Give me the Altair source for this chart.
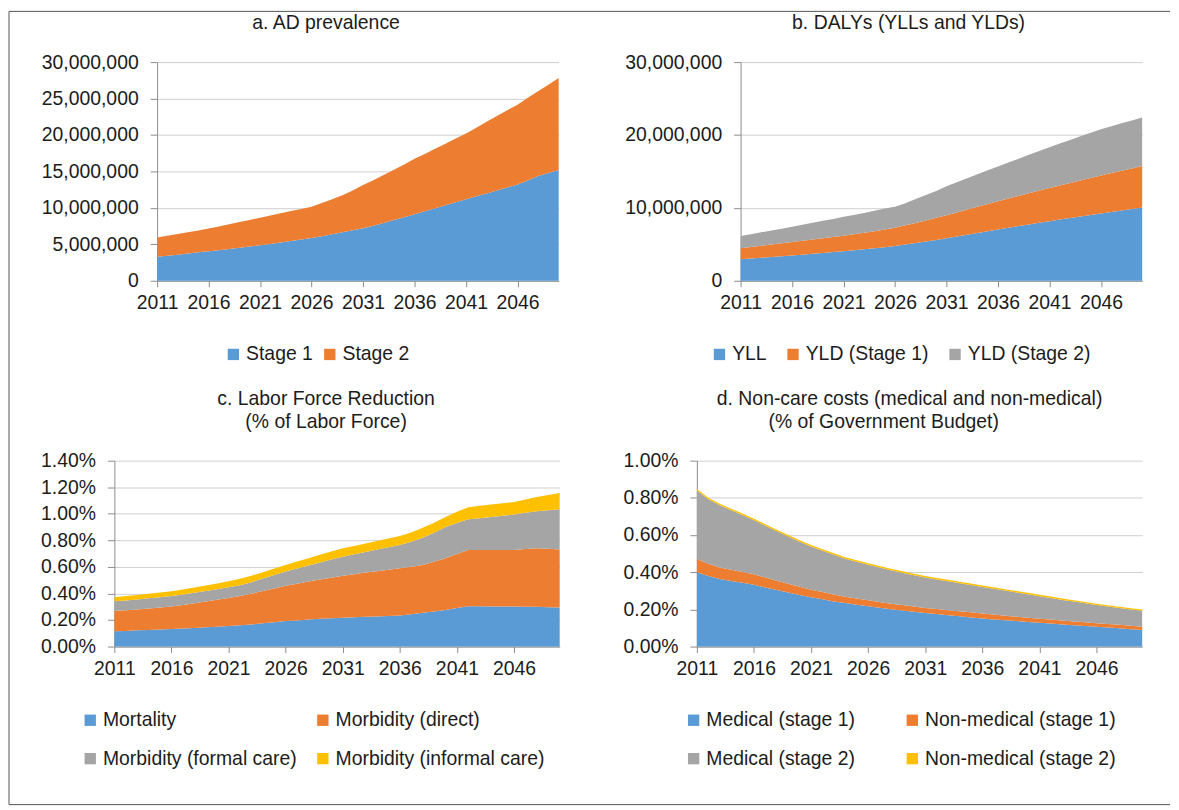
import altair as alt
import pandas as pd

FONT = "Liberation Sans"
FS = 19.5
TXT = "#1c1c1c"
GRID = "#d0d0d0"
AXIS = "#8c8c8c"
BLUE, ORANGE, GRAY, YELLOW = "#5B9BD5", "#ED7D31", "#A5A5A5", "#FFC000"

years = list(range(2011, 2051))
tick_years = [2011, 2016, 2021, 2026, 2031, 2036, 2041, 2046]

# ---- a. AD prevalence (millions; stacked levels) ----
a_names = ["Stage 1", "Stage 2"]
a_stage1_top = [3.28, 3.43, 3.58, 3.74, 3.90, 4.06, 4.20, 4.37, 4.53, 4.70,
                4.88, 5.05, 5.25, 5.45, 5.66, 5.88, 6.12, 6.38, 6.65, 6.92,
                7.20, 7.55, 7.93, 8.32, 8.72, 9.12, 9.53, 9.94, 10.35, 10.76,
                11.17, 11.58, 11.98, 12.38, 12.78, 13.20, 13.76, 14.36, 14.80, 15.18]
a_stage2_top = [5.93, 6.17, 6.42, 6.66, 6.91, 7.16, 7.45, 7.76, 8.05, 8.33,
                8.66, 8.95, 9.25, 9.58, 9.86, 10.16, 10.66, 11.18, 11.74, 12.40,
                13.13, 13.80, 14.50, 15.22, 15.96, 16.73, 17.40, 18.10, 18.80, 19.50,
                20.20, 21.00, 21.80, 22.60, 23.40, 24.16, 25.10, 26.00, 26.90, 27.80]

# ---- b. DALYs (millions) ----
b_names = ["YLL", "YLD (Stage 1)", "YLD (Stage 2)"]
b_yll_top = [2.95, 3.05, 3.15, 3.25, 3.35, 3.45, 3.57, 3.69, 3.81, 3.93,
             4.05, 4.18, 4.32, 4.46, 4.61, 4.77, 4.97, 5.17, 5.38, 5.60,
             5.82, 6.06, 6.30, 6.55, 6.80, 7.05, 7.28, 7.50, 7.73, 7.96,
             8.18, 8.40, 8.61, 8.82, 9.03, 9.23, 9.44, 9.65, 9.85, 10.05]
b_yld1_top = [4.45, 4.62, 4.80, 4.97, 5.15, 5.32, 5.49, 5.66, 5.83, 6.00,
              6.18, 6.38, 6.58, 6.80, 7.03, 7.27, 7.60, 7.93, 8.27, 8.63,
              9.00, 9.38, 9.76, 10.14, 10.52, 10.90, 11.27, 11.64, 12.00, 12.37,
              12.73, 13.08, 13.42, 13.77, 14.11, 14.45, 14.77, 15.09, 15.41, 15.73]
b_yld2_top = [6.14, 6.39, 6.64, 6.89, 7.15, 7.41, 7.68, 7.95, 8.22, 8.49,
              8.77, 9.02, 9.30, 9.60, 9.90, 10.14, 10.65, 11.20, 11.75, 12.33,
              12.95, 13.50, 14.05, 14.60, 15.15, 15.68, 16.22, 16.75, 17.28, 17.80,
              18.32, 18.82, 19.32, 19.82, 20.31, 20.80, 21.20, 21.60, 22.00, 22.40]

# ---- c. Labor force reduction (% of labor force) ----
c_names = ["Mortality", "Morbidity (direct)", "Morbidity (formal care)", "Morbidity (informal care)"]
c_mort_top = [0.115, 0.118, 0.122, 0.125, 0.128, 0.132, 0.136, 0.140, 0.145, 0.150,
              0.154, 0.160, 0.167, 0.175, 0.184, 0.192, 0.197, 0.203, 0.209, 0.213,
              0.217, 0.221, 0.224, 0.227, 0.231, 0.234, 0.243, 0.254, 0.265, 0.276,
              0.290, 0.304, 0.303, 0.302, 0.302, 0.301, 0.300, 0.300, 0.297, 0.294]
c_direct_top = [0.269, 0.274, 0.280, 0.287, 0.294, 0.301, 0.313, 0.326, 0.339, 0.352,
                0.366, 0.380, 0.398, 0.418, 0.438, 0.458, 0.474, 0.490, 0.505, 0.519,
                0.533, 0.545, 0.557, 0.568, 0.579, 0.590, 0.602, 0.615, 0.638, 0.665,
                0.697, 0.727, 0.727, 0.727, 0.727, 0.727, 0.734, 0.740, 0.736, 0.732]
c_formal_top = [0.341, 0.347, 0.354, 0.363, 0.372, 0.381, 0.393, 0.406, 0.419, 0.432,
                0.446, 0.462, 0.485, 0.512, 0.539, 0.565, 0.588, 0.611, 0.633, 0.655,
                0.677, 0.695, 0.713, 0.731, 0.748, 0.765, 0.790, 0.820, 0.858, 0.900,
                0.930, 0.959, 0.966, 0.975, 0.985, 0.994, 1.007, 1.019, 1.027, 1.034]
c_informal_top = [0.371, 0.380, 0.389, 0.398, 0.407, 0.416, 0.430, 0.445, 0.460, 0.475,
                  0.491, 0.510, 0.533, 0.560, 0.588, 0.615, 0.641, 0.666, 0.691, 0.716,
                  0.740, 0.758, 0.777, 0.795, 0.813, 0.832, 0.860, 0.894, 0.933, 0.976,
                  1.015, 1.049, 1.060, 1.070, 1.079, 1.088, 1.108, 1.126, 1.141, 1.156]

# ---- d. Non-care costs (% of government budget) ----
d_names = ["Medical (stage 1)", "Non-medical (stage 1)", "Medical (stage 2)", "Non-medical (stage 2)"]
d_med1_top = [0.400, 0.380, 0.364, 0.353, 0.343, 0.332, 0.318, 0.304, 0.291, 0.278,
              0.265, 0.254, 0.243, 0.234, 0.225, 0.217, 0.209, 0.201, 0.194, 0.187,
              0.181, 0.175, 0.169, 0.163, 0.157, 0.151, 0.146, 0.141, 0.137, 0.132,
              0.128, 0.124, 0.119, 0.115, 0.111, 0.107, 0.102, 0.098, 0.093, 0.089]
d_nonmed1_top = [0.471, 0.445, 0.425, 0.413, 0.401, 0.389, 0.371, 0.354, 0.338, 0.322,
                 0.306, 0.293, 0.280, 0.268, 0.258, 0.249, 0.240, 0.231, 0.223, 0.215,
                 0.208, 0.202, 0.196, 0.190, 0.184, 0.178, 0.172, 0.166, 0.160, 0.155,
                 0.149, 0.145, 0.140, 0.135, 0.131, 0.126, 0.121, 0.117, 0.112, 0.107]
d_med2_top = [0.840, 0.792, 0.760, 0.734, 0.708, 0.680, 0.650, 0.620, 0.592, 0.564,
              0.538, 0.515, 0.494, 0.473, 0.456, 0.440, 0.425, 0.411, 0.397, 0.384,
              0.372, 0.361, 0.351, 0.341, 0.331, 0.321, 0.311, 0.301, 0.291, 0.281,
              0.271, 0.261, 0.251, 0.242, 0.233, 0.224, 0.215, 0.207, 0.199, 0.192]
d_nonmed2_top = [0.848, 0.800, 0.768, 0.742, 0.716, 0.688, 0.658, 0.628, 0.600, 0.572,
                 0.546, 0.523, 0.502, 0.481, 0.464, 0.448, 0.433, 0.419, 0.405, 0.392,
                 0.380, 0.369, 0.359, 0.349, 0.339, 0.329, 0.319, 0.309, 0.299, 0.289,
                 0.279, 0.269, 0.259, 0.249, 0.240, 0.231, 0.222, 0.214, 0.206, 0.199]

one = pd.DataFrame({"k": [0]})


def long_frame(names, tops):
    rows = []
    for i, (name, top) in enumerate(zip(names, tops)):
        below = tops[i - 1] if i > 0 else [0] * len(years)
        for yr, lo, hi in zip(years, below, top):
            rows.append({"year": yr, "series": name, "lo": lo, "hi": hi})
    return pd.DataFrame(rows)


def title_line(text, cx, baseline_y):
    return alt.Chart(one).mark_text(
        font=FONT, fontSize=FS, color=TXT, align="center", baseline="alphabetic"
    ).encode(x=alt.value(cx), y=alt.value(baseline_y), text=alt.value(text))


def panel(names, tops, colors, x_range, y_values, label_expr, y_offset, height,
          titles, leg_x, leg_y, leg_cols, col_pad, extra=()):
    df = long_frame(names, tops)
    area = alt.Chart(df).mark_area(interpolate="linear").encode(
        x=alt.X("year:Q",
                scale=alt.Scale(domain=[2011, 2050], range=x_range, nice=False, zero=False),
                axis=alt.Axis(values=tick_years, format="d", title=None, grid=False,
                              domainColor=AXIS, tickColor=AXIS, tickSize=6, labelPadding=7,
                              labelFont=FONT, labelFontSize=FS, labelColor=TXT,
                              labelFlush=False, labelOverlap=False)),
        y=alt.Y("hi:Q", stack=None,
                scale=alt.Scale(domain=[y_values[0], y_values[-1]], nice=False, zero=True),
                axis=alt.Axis(values=y_values, labelExpr=label_expr, title=None, grid=True,
                              gridColor=GRID, domainColor=AXIS, tickColor=AXIS, tickSize=7,
                              labelPadding=12, offset=y_offset,
                              labelFont=FONT, labelFontSize=FS, labelColor=TXT,
                              labelFlush=False, labelOverlap=False)),
        y2="lo:Q",
        color=alt.Color("series:N", scale=alt.Scale(domain=names, range=colors),
                        legend=alt.Legend(orient="none", legendX=leg_x, legendY=leg_y,
                                          direction="horizontal", columns=leg_cols, title=None,
                                          symbolType="square", symbolSize=130,
                                          symbolStrokeWidth=0, labelFont=FONT,
                                          labelFontSize=FS, labelColor=TXT, labelOffset=3,
                                          columnPadding=col_pad, rowPadding=18,
                                          labelLimit=400)),
    )
    layers = [area] + [title_line(t, cx, by) for (t, cx, by) in titles] + list(extra)
    return alt.layer(*layers).properties(width=448, height=height)


mil_expr = "format(datum.value * 1000000, ',d')"
pct_expr = "format(datum.value, '.2f') + '%'"

# outer frame of the figure (decorative), drawn relative to panel a
FRAME = "#555555"
frame_top = alt.Chart(one).mark_rule(color=FRAME, strokeWidth=1).encode(
    x=alt.value(-106), x2=alt.value(1062), y=alt.value(-51))
frame_left = alt.Chart(one).mark_rule(color=FRAME, strokeWidth=1).encode(
    x=alt.value(-106), y=alt.value(-51), y2=alt.value(747))
frame_bottom = alt.Chart(one).mark_rule(color=FRAME, strokeWidth=1).encode(
    x=alt.value(-106), x2=alt.value(1062), y=alt.value(747))

pa = panel(a_names, [a_stage1_top, a_stage2_top], [BLUE, ORANGE], [43, 447],
           [0, 5, 10, 15, 20, 25, 30], mil_expr, -43, 220,
           [("a. AD prevalence", 213, -33)],
           110, 284, 2, 7, extra=(frame_top, frame_left, frame_bottom))
pb = panel(b_names, [b_yll_top, b_yld1_top, b_yld2_top], [BLUE, ORANGE, GRAY], [44, 448],
           [0, 10, 20, 30], mil_expr, -44, 220,
           [("b. DALYs (YLLs and YLDs)", 213, -33)],
           13, 284, 3, 16)
pc = panel(c_names, [c_mort_top, c_direct_top, c_formal_top, c_informal_top],
           [BLUE, ORANGE, GRAY, YELLOW], [0, 448],
           [0, 0.2, 0.4, 0.6, 0.8, 1.0, 1.2, 1.4], pct_expr, 0, 187,
           [("c. Labor Force Reduction", 213, -56), ("(% of Labor Force)", 213, -33)],
           -34, 251, 2, 16)
pd_ = panel(d_names, [d_med1_top, d_nonmed1_top, d_med2_top, d_nonmed2_top],
            [BLUE, ORANGE, GRAY, YELLOW], [0, 448],
            [0, 0.2, 0.4, 0.6, 0.8, 1.0], pct_expr, 0, 187,
            [("d. Non-care costs (medical and non-medical)", 214, -56),
             ("(% of Government Budget)", 188, -33)],
            -13, 251, 2, 47)

chart = alt.concat(
    pa, pb, pc, pd_, columns=2, bounds="flush",
    spacing={"row": 181, "column": 138},
).resolve_scale(
    color="independent", x="independent", y="independent"
).properties(
    padding=0, background="white"
).configure_view(stroke=None)

chart.save("out.html", embed_options={"renderer": "svg", "actions": False})
